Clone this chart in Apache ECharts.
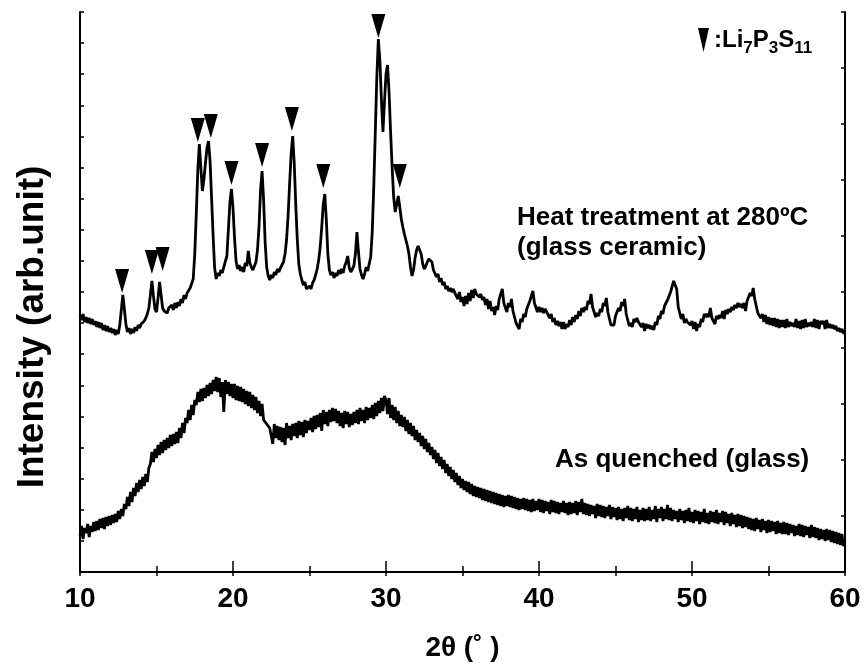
<!DOCTYPE html>
<html>
<head>
<meta charset="utf-8">
<script src="https://cdn.jsdelivr.net/npm/echarts@6/dist/echarts.min.js"></script>
<style>html,body{margin:0;padding:0;background:#fff;}#c{width:867px;height:667px;}</style>
</head>
<body>
<div id="c"></div>
<script>
// 2θ sampling grid
const twoThetaStart = 10;
const twoThetaStep = 0.1;
// Heat treatment at 280ºC (glass ceramic), arb. intensity, 10.0 .. 60.0 deg
const heatTreated = [
257,252,258,250,255,249,254,248,253,247,
251,245,250,244,249,242,247,241,246,240,
244,239,243,237,242,238,247,262,277,263,
248,240,244,238,243,239,245,241,247,244,
248,246,251,254,258,264,277,291,276,263,
260,274,290,277,264,261,263,259,264,262,
267,262,269,264,270,266,273,269,277,273,
279,281,284,286,293,318,358,402,428,404,
381,393,409,424,431,411,374,336,304,293,
299,296,302,299,305,303,316,343,370,383,
364,334,311,303,307,301,305,300,309,306,
321,309,305,302,306,310,322,345,382,401,
372,330,305,296,292,297,294,300,297,303,
300,304,302,310,318,332,356,388,418,436,
410,368,333,308,298,292,287,290,283,281,
286,283,289,292,297,303,312,325,345,368,
378,352,318,302,297,300,294,299,296,302,
298,303,299,306,310,316,304,300,298,306,
318,340,320,303,297,293,298,305,301,308,
315,340,385,440,495,533,512,472,440,470,
498,507,480,440,405,375,360,368,376,365,
353,345,338,332,326,318,305,296,302,314,
322,326,328,318,308,303,306,310,313,315,
310,302,302,295,298,290,294,287,290,283,
286,281,284,280,283,279,281,273,280,270,
275,266,276,268,279,271,282,274,283,278,
280,275,278,272,275,267,273,263,271,261,
265,257,266,262,273,273,283,269,269,260,
269,265,273,261,261,249,251,243,253,250,
258,255,263,261,271,269,281,269,270,260,
265,260,264,259,263,260,262,254,258,250,
254,247,251,246,250,243,250,243,248,245,
252,247,255,250,257,253,261,256,264,260,
265,262,271,268,278,265,265,255,259,256,
263,260,269,266,274,260,259,247,249,247,
256,254,264,261,270,266,273,258,257,246,
249,245,253,250,254,250,252,245,249,241,
248,244,247,243,246,242,250,247,256,253,
261,258,266,264,272,270,280,280,291,287,
283,265,265,253,258,249,253,250,252,247,
251,243,250,241,248,245,253,250,258,255,
258,255,264,254,255,248,256,253,257,254,
261,253,262,258,263,260,265,262,267,264,
269,265,268,264,269,261,271,269,279,276,
284,273,271,259,261,254,258,250,257,248,
255,247,254,246,254,245,253,244,252,245,
252,244,253,245,250,246,249,245,253,244,
251,243,252,244,253,245,249,246,250,245,
253,244,252,243,251,248,251,243,252,244,
248,244,247,243,246,241,244,240,243,239,
239
];
// As quenched (glass)
const asQuenched = [
36,46,33,44,39,48,35,46,40,50,
41,51,42,53,44,54,43,55,46,56,
47,57,49,58,50,61,53,63,56,68,
63,75,66,80,70,84,76,89,80,92,
83,95,86,98,90,104,108,120,110,123,
114,127,117,130,119,132,122,134,124,137,
126,138,128,140,129,144,134,149,139,154,
149,162,152,167,157,172,167,180,170,183,
171,184,174,187,176,189,178,192,181,195,
180,194,175,190,160,192,178,190,176,188,
174,188,172,186,171,185,170,183,168,181,
166,180,164,177,162,175,159,171,156,168,
152,154,148,150,144,144,128,148,134,146,
132,145,130,144,127,149,134,146,132,148,
136,149,134,151,137,150,135,152,139,151,
142,154,140,156,143,157,145,159,141,162,
148,160,146,162,150,164,151,163,149,161,
146,159,144,161,148,160,145,158,147,160,
149,162,148,164,151,162,149,165,152,164,
154,167,153,169,156,171,159,174,161,176,
172,158,174,154,167,152,165,149,161,146,
157,145,155,141,152,138,149,136,146,132,
142,130,139,126,136,123,133,120,129,117,
125,113,122,109,119,106,115,103,112,99,
108,96,105,93,102,90,99,87,96,84,
93,82,91,80,90,78,88,76,86,75,
85,74,84,72,83,71,82,70,81,69,
80,68,79,67,78,66,77,65,76,66,
77,65,76,64,75,63,74,62,73,63,
74,62,73,61,72,60,73,61,71,62,
73,60,72,59,71,61,70,58,72,60,
71,59,70,58,69,60,71,59,69,57,
70,58,69,59,71,57,70,60,73,58,
69,57,68,56,67,58,66,54,68,56,
67,55,66,54,65,56,67,53,65,55,
64,52,65,53,63,51,64,54,66,52,
64,51,63,53,65,50,62,52,64,51,
63,52,65,51,62,53,66,50,63,54,
65,51,63,53,67,52,64,51,62,53,
61,50,63,52,61,49,62,51,64,50,
60,49,62,51,61,48,60,50,63,49,
59,48,61,50,60,49,62,48,59,50,
61,47,60,49,58,46,59,48,57,45,
58,46,57,44,56,45,55,43,54,42,
53,41,54,43,52,40,53,42,51,39,
52,40,51,41,50,38,51,39,49,38,
50,38,49,37,48,39,47,36,46,37,
48,36,47,35,46,37,45,34,47,35,
45,34,44,32,43,33,42,31,43,32,
42,30,41,29,40,28,39,27,38,26,
30
];
// Li7P3S11 peak markers
const markerTheta = [12.75, 14.7, 15.4, 17.7, 18.55, 19.9, 21.9, 23.85, 25.9, 29.5, 30.9];
const markerLevel = [291, 310, 313, 442, 446, 399, 417, 453, 396, 546, 396];
const xTickInterval = 10;

const FONT = '"Liberation Sans", Arial, sans-serif';
const toPairs = arr => arr.map((v, i) => [+(twoThetaStart + i * twoThetaStep).toFixed(2), v]);

const chart = echarts.init(document.getElementById('c'), null, {renderer: 'canvas'});
const axisLine = {show: true, lineStyle: {color: '#000', width: 2}};
const tickStyle = {color: '#000', width: 1.5};
const option = {
  animation: false,
  backgroundColor: '#fff',
  grid: {left: 80, right: 22, top: 12, bottom: 94},
  legend: {
    left: 693, top: 23, itemWidth: 11, itemHeight: 24, selectedMode: false,
    data: [{name: 'Li7P3S11', icon: 'path://M0,0L11,0L5.5,24Z', itemStyle: {opacity: 1}}],
    formatter: () => ':Li{s|7}P{s|3}S{s|11}',
    textStyle: {color: '#000', fontSize: 24, fontWeight: 'bold', fontFamily: FONT,
      rich: {s: {fontSize: 17, fontWeight: 'bold', fontFamily: FONT, color: '#000', padding: [17, 0, 0, 0]}}}
  },
  xAxis: [
    {type: 'value', position: 'bottom', min: 10, max: 60, interval: xTickInterval,
     axisLine, splitLine: {show: false},
     axisTick: {inside: true, length: 11, lineStyle: tickStyle},
     minorTick: {show: true, splitNumber: 2, length: 6, lineStyle: tickStyle},
     axisLabel: {color: '#000', fontSize: 28, fontWeight: 'bold', fontFamily: FONT, margin: 13, showMinLabel: true, showMaxLabel: true},
     name: '2θ (˚ )', nameLocation: 'middle', nameGap: 62,
     nameTextStyle: {color: '#000', fontSize: 28, fontWeight: 'bold', fontFamily: FONT}},
    {type: 'value', position: 'top', min: 10, max: 60, interval: 5,
     axisLine, splitLine: {show: false}, axisLabel: {show: false},
     axisTick: {inside: true, length: 4, lineStyle: tickStyle}}
  ],
  yAxis: [
    {type: 'value', position: 'left', min: 0, max: 560, interval: 560 / 18,
     axisLine, splitLine: {show: false}, axisLabel: {show: false},
     axisTick: {inside: true, length: 4, lineStyle: tickStyle},
     name: 'Intensity (arb.unit)', nameLocation: 'middle', nameGap: 29,
     nameTextStyle: {color: '#000', fontSize: 37, fontWeight: 'bold', fontFamily: FONT, padding: [0, 70, 0, 0]}},
    {type: 'value', position: 'right', min: 0, max: 560, interval: 56,
     axisLine, splitLine: {show: false}, axisLabel: {show: false},
     axisTick: {inside: true, length: 4, lineStyle: tickStyle}}
  ],
  series: [
    {name: 'Heat treatment at 280ºC', type: 'line', data: toPairs(heatTreated), showSymbol: false, symbol: 'none',
     lineStyle: {color: '#000', width: 2.8}, silent: true},
    {name: 'As quenched', type: 'line', data: toPairs(asQuenched), showSymbol: false, symbol: 'none',
     lineStyle: {color: '#000', width: 2.8}, silent: true},
    {name: 'Li7P3S11', type: 'scatter', data: markerTheta.map((t, i) => [t, markerLevel[i]]),
     symbol: 'path://M0,0L14,0L7,24Z', symbolSize: [14, 24], itemStyle: {color: '#000', opacity: 1}, silent: true, z: 5}
  ],
  graphic: [
    {type: 'text', left: 517, top: 203, style: {text: 'Heat treatment at 280ºC\n(glass ceramic)', fill: '#000',
      font: 'bold 26px ' + FONT, lineHeight: 30}},
    {type: 'text', left: 555, top: 445, style: {text: 'As quenched (glass)', fill: '#000',
      font: 'bold 26px ' + FONT, lineHeight: 30}}
  ]
};
chart.setOption(option);
</script>
</body>
</html>
